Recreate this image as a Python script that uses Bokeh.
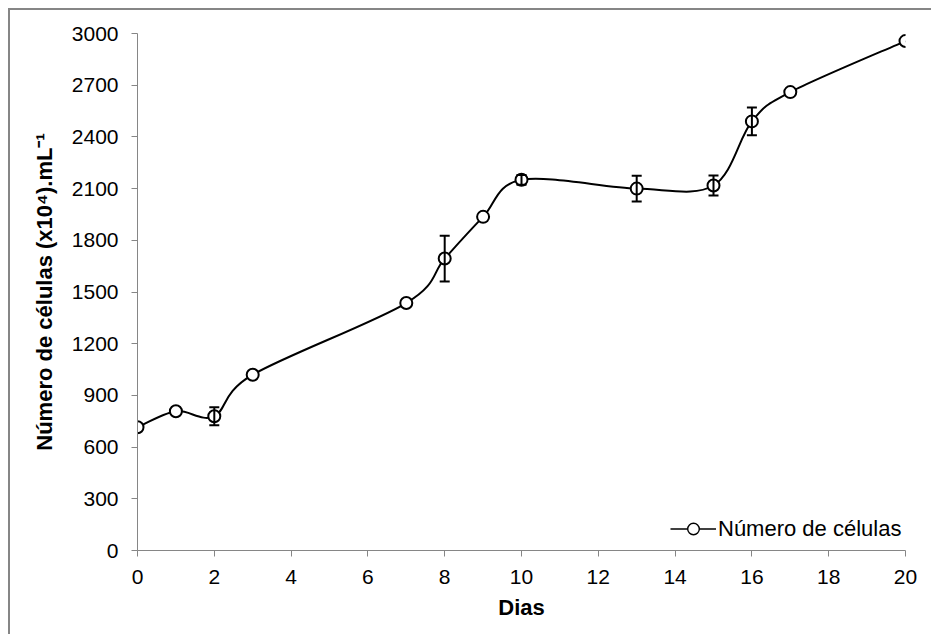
from bokeh.plotting import figure
from bokeh.models import (ColumnDataSource, Whisker, TeeHead, FixedTicker, Legend,
                          LegendItem, Range1d)
from bokeh.embed import file_html
from bokeh.resources import INLINE

# ---- data ----
dias = [0, 1, 2, 3, 7, 8, 9, 10, 13, 15, 16, 17, 20]
celulas = [715, 808, 779, 1020, 1436, 1694, 1936, 2151, 2100, 2118, 2490, 2660, 2956]
erro = [0, 0, 52, 0, 0, 133, 0, 28, 75, 58, 81, 0, 0]
x_ticks = [0, 2, 4, 6, 8, 10, 12, 14, 16, 18, 20]
y_ticks = [0, 300, 600, 900, 1200, 1500, 1800, 2100, 2400, 2700, 3000]
serie = "Número de células"
y_title = "Número de células (x10⁴).mL⁻¹"
x_title = "Dias"

FONT = "Liberation Sans"
AXIS_GRAY = "#868686"

p = figure(width=923, height=626, output_backend="svg", toolbar_location=None,
           x_range=Range1d(0, 20), y_range=Range1d(0, 3000),
           min_border_left=127, min_border_right=28, min_border_top=23,
           min_border_bottom=86)
p.styles = {"border-left": f"2px solid {AXIS_GRAY}", "border-top": f"2px solid {AXIS_GRAY}",
            "margin-left": "8px", "margin-top": "8px"}
p.outline_line_color = None
p.xgrid.grid_line_color = None
p.ygrid.grid_line_color = None

# ---- smoothed curve (Catmull-Rom style bezier segments, Excel-like smoothing) ----
n = len(dias)
bx0, by0, bx1, by1, cx0, cy0, cx1, cy1 = [], [], [], [], [], [], [], []
for i in range(n - 1):
    xm, ym = (dias[i - 1], celulas[i - 1]) if i > 0 else (dias[i], celulas[i])
    xa, ya = dias[i], celulas[i]
    xb, yb = dias[i + 1], celulas[i + 1]
    xp, yp = (dias[i + 2], celulas[i + 2]) if i + 2 < n else (dias[i + 1], celulas[i + 1])
    bx0.append(xa); by0.append(ya); bx1.append(xb); by1.append(yb)
    cx0.append(xa + (xb - xm) / 6.0); cy0.append(ya + (yb - ym) / 6.0)
    cx1.append(xb - (xp - xa) / 6.0); cy1.append(yb - (yp - ya) / 6.0)

p.bezier(x0=bx0, y0=by0, x1=bx1, y1=by1, cx0=cx0, cy0=cy0, cx1=cx1, cy1=cy1,
         line_color="black", line_width=2)

# error bars (only where present)
ex = [d for d, e in zip(dias, erro) if e > 0]
eu = [c + e for c, e in zip(celulas, erro) if e > 0]
el = [c - e for c, e in zip(celulas, erro) if e > 0]
esrc = ColumnDataSource(dict(x=ex, upper=eu, lower=el))
w = Whisker(source=esrc, base="x", upper="upper", lower="lower", dimension="height",
            line_color="black", line_width=2,
            upper_head=TeeHead(size=10, line_color="black", line_width=2),
            lower_head=TeeHead(size=10, line_color="black", line_width=2),
            level="glyph")
p.add_layout(w)

pts = p.scatter(dias, celulas, marker="circle", size=12, fill_color="white",
                line_color="black", line_width=2)

# legend proxy line (no visible data)
leg_line = p.line(x=[float("nan")], y=[float("nan")], line_color="black", line_width=1.6)
leg_pt = p.scatter(x=[float("nan")], y=[float("nan")], marker="circle", size=11,
                   fill_color="white", line_color="black", line_width=1.4)

legend = Legend(items=[LegendItem(label=serie, renderers=[leg_line, leg_pt])],
                location=(533, 7), padding=0, margin=0, spacing=0,
                glyph_width=46, glyph_height=29, label_height=29, label_standoff=2,
                border_line_color=None, background_fill_alpha=0,
                label_text_font=FONT, label_text_font_size="22px",
                label_text_color="black")
p.add_layout(legend)

# ---- axes ----
for ax in (p.xaxis[0], p.yaxis[0]):
    ax.axis_line_color = AXIS_GRAY
    ax.axis_line_width = 1
    ax.major_tick_line_color = AXIS_GRAY
    ax.major_tick_in = 0
    ax.major_tick_out = 6
    ax.minor_tick_line_color = None
    ax.major_label_text_font = FONT
    ax.major_label_text_font_size = "21px"
    ax.major_label_text_color = "black"
    ax.axis_label_text_font = FONT
    ax.axis_label_text_font_size = "22px"
    ax.axis_label_text_font_style = "bold"
    ax.axis_label_text_color = "black"

p.xaxis.ticker = FixedTicker(ticks=x_ticks)
p.yaxis.ticker = FixedTicker(ticks=y_ticks)
p.xaxis.axis_label = x_title
p.yaxis.axis_label = y_title
p.xaxis.major_label_standoff = 13
p.yaxis.major_label_standoff = 13
p.xaxis.axis_label_standoff = 8
p.yaxis.axis_label_standoff = 12

open("out.html", "w").write(file_html(p, INLINE))
